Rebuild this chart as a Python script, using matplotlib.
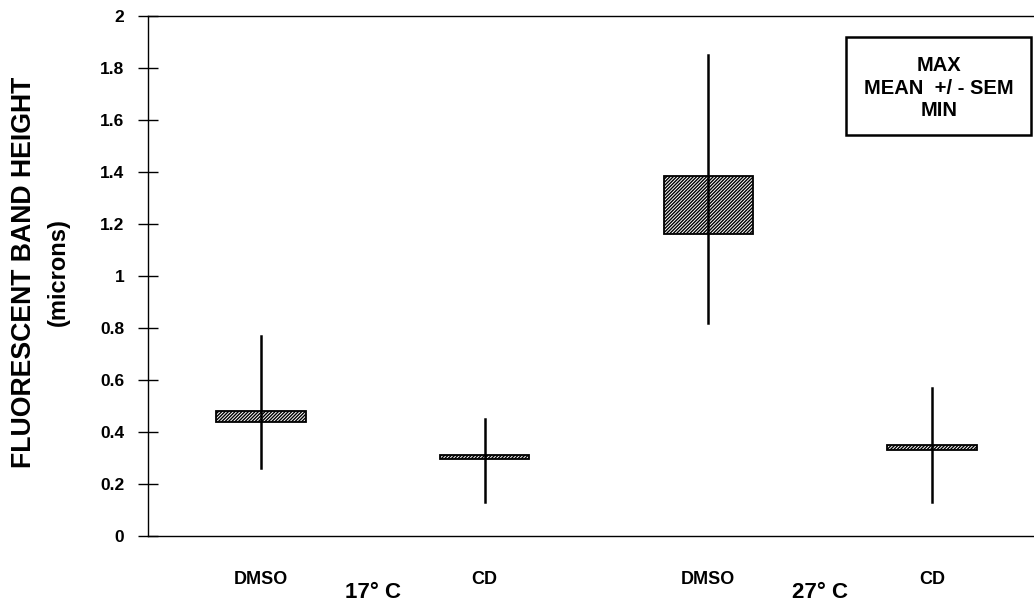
import numpy as np
import matplotlib.pyplot as plt
from matplotlib.patches import Rectangle

plt.rcParams['font.family'] = ['Liberation Sans', 'DejaVu Sans']
plt.rcParams['hatch.linewidth'] = 1.0

# values
treatments = ['DMSO', 'CD', 'DMSO', 'CD']
temps = ['17° C', '27° C']
max_vals = [0.77, 0.45, 1.85, 0.57]
min_vals = [0.26, 0.13, 0.82, 0.13]
sem_high = [0.48, 0.31, 1.385, 0.35]
sem_low = [0.44, 0.295, 1.16, 0.33]
y_ticks = [0, 0.2, 0.4, 0.6, 0.8, 1.0, 1.2, 1.4, 1.6, 1.8, 2.0]
y_tick_labels = ['0', '0.2', '0.4', '0.6', '0.8', '1', '1.2', '1.4', '1.6', '1.8', '2']

W, H = 1034, 605
fig = plt.figure(figsize=(W / 100, H / 100), dpi=100)
ax = fig.add_axes([148 / W, (H - 536) / H, 1 - 148 / W, 520 / H])

x = np.arange(1, len(treatments) + 1)
box_w = 0.40

for xi, lo, hi, mn, mx in zip(x, sem_low, sem_high, min_vals, max_vals):
    ax.add_patch(Rectangle((xi - box_w / 2, lo), box_w, hi - lo,
                           facecolor='white', edgecolor='black',
                           hatch='//////////', linewidth=1.3, zorder=2))
    ax.plot([xi, xi], [mn, mx], color='black', linewidth=1.8, zorder=3)

ax.set_xlim(0.495, 4.456)
ax.set_ylim(0, 2)
ax.set_yticks(y_ticks)
ax.set_yticklabels(y_tick_labels, fontsize=12.5, fontweight='bold')
ax.tick_params(axis='y', direction='inout', length=14, width=1, pad=10)
ax.set_xticks(x)
ax.set_xticklabels(treatments, fontsize=13, fontweight='bold')
ax.tick_params(axis='x', length=0, pad=25)

ax.spines['right'].set_visible(False)
for s in ['left', 'bottom', 'top']:
    ax.spines[s].set_linewidth(1.0)

# temperature group labels, centred under each pair
group_tf = ax.get_xaxis_transform().__class__(ax.transData, fig.transFigure)
for i, t in enumerate(temps):
    ax.text((x[2 * i] + x[2 * i + 1]) / 2, 1 - 592 / H, t, ha='center', va='center',
            fontsize=16, fontweight='bold', transform=group_tf)

# y axis title
fig.text(24 / W, 1 - 272 / H, 'FLUORESCENT BAND HEIGHT', rotation=90, ha='center', va='center',
         fontsize=19.2, fontweight='bold')
fig.text(58 / W, 1 - 272 / H, '(microns)', rotation=90, ha='center', va='center',
         fontsize=17, fontweight='bold')

# key box
fig.patches.append(Rectangle((846 / W, 1 - 135 / H), 185 / W, 98 / H, transform=fig.transFigure,
                             facecolor='white', edgecolor='black', linewidth=1.8, zorder=5))
fig.text(939 / W, 1 - 88 / H, 'MAX\nMEAN  +/ - SEM\nMIN', ha='center', va='center',
         fontsize=14.5, fontweight='bold', linespacing=1.25, zorder=6)

fig.savefig('out.png', dpi=100)
